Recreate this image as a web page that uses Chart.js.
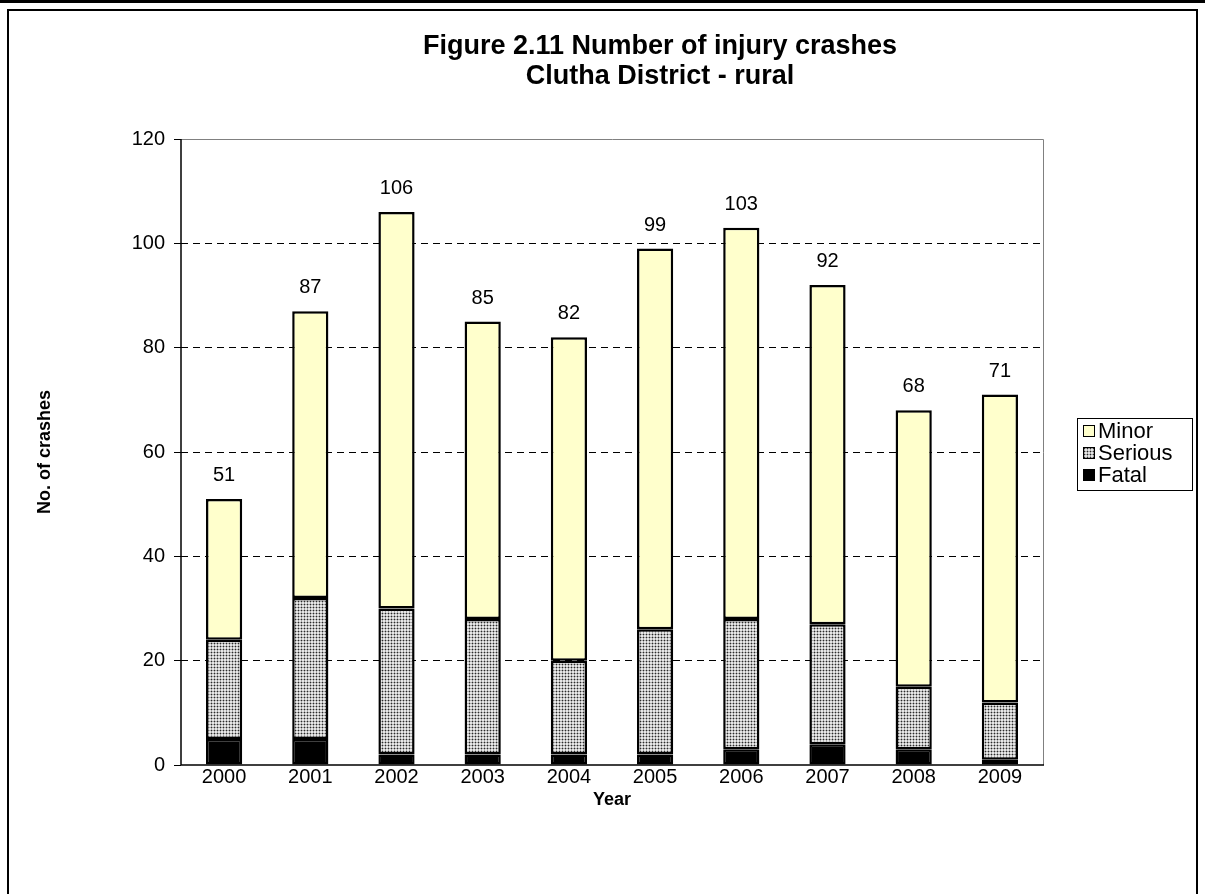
<!DOCTYPE html>
<html>
<head>
<meta charset="utf-8">
<script src="https://cdn.jsdelivr.net/npm/chart.js@4.4.1/dist/chart.umd.min.js"></script>
<style>
html,body{margin:0;padding:0;background:#fff;}
#wrap{position:relative;width:1205px;height:894px;overflow:hidden;}
#topline{position:absolute;left:0;top:0;width:1205px;height:3px;background:#000;}
#frame{position:absolute;left:7px;top:9px;width:1191px;height:900px;border:2px solid #000;box-sizing:border-box;}
canvas{position:absolute;left:0;top:0;}
</style>
</head>
<body>
<div id="wrap">
<div id="topline"></div>
<div id="frame"></div>
<canvas id="c" width="1205" height="894"></canvas>
</div>
<script>
const titleLines = ['Figure 2.11 Number of injury crashes', 'Clutha District - rural'];
const years = ['2000','2001','2002','2003','2004','2005','2006','2007','2008','2009'];
const fatal   = [5, 5, 2, 2, 2, 2, 3, 4, 3, 1];
const serious = [19, 27, 28, 26, 18, 24, 25, 23, 12, 11];
const minor   = [27, 55, 76, 57, 62, 73, 75, 65, 53, 59];
const yTicks  = [0, 20, 40, 60, 80, 100, 120];
const yTitle = 'No. of crashes';
const xTitle = 'Year';
const legendOrder = ['Minor', 'Serious', 'Fatal'];

const FONT = "'Liberation Sans', Arial, sans-serif";

function makePattern() {
  const p = document.createElement('canvas');
  p.width = 3; p.height = 3;
  const g = p.getContext('2d');
  g.fillStyle = '#e6e6e6'; g.fillRect(0,0,3,3);
  g.fillStyle = '#a8a8a8'; g.fillRect(0,1,3,1); g.fillRect(1,0,1,3);
  g.fillStyle = '#2a2a2a'; g.fillRect(1,1,1,1);
  return document.getElementById('c').getContext('2d').createPattern(p, 'repeat');
}
const seriousFill = makePattern();

const titlePlugin = {
  id: 'customTitle',
  afterDraw(chart) {
    const ctx = chart.ctx;
    ctx.save();
    ctx.fillStyle = '#000';
    ctx.font = "bold 27px " + FONT;
    ctx.textAlign = 'center';
    ctx.textBaseline = 'middle';
    const cx = 660;
    ctx.fillText(titleLines[0], cx, 47);
    ctx.fillText(titleLines[1], cx, 77);
    ctx.restore();
  }
};

const framePlugin = {
  id: 'plotFrame',
  afterDatasetsDraw(chart) {
    const a = chart.chartArea, ctx = chart.ctx;
    ctx.save();
    ctx.lineWidth = 1;
    ctx.strokeStyle = '#808080';
    ctx.beginPath();
    ctx.moveTo(a.left, a.top + 0.5); ctx.lineTo(a.right + 0.5, a.top + 0.5); ctx.lineTo(a.right + 0.5, a.bottom);
    ctx.stroke();
    ctx.strokeStyle = '#000';
    ctx.lineWidth = 1.5;
    ctx.beginPath();
    ctx.moveTo(a.left, a.top); ctx.lineTo(a.left, a.bottom); ctx.lineTo(a.right + 1, a.bottom);
    ctx.stroke();
    ctx.restore();
  }
};

const totalsPlugin = {
  id: 'totals',
  afterDatasetsDraw(chart) {
    const ctx = chart.ctx;
    const y = chart.scales.y;
    const meta = chart.getDatasetMeta(chart.data.datasets.length - 1);
    ctx.save();
    ctx.fillStyle = '#000';
    ctx.font = "20px " + FONT;
    ctx.textAlign = 'center';
    ctx.textBaseline = 'alphabetic';
    years.forEach((yr, i) => {
      const total = fatal[i] + serious[i] + minor[i];
      const px = meta.data[i].x;
      ctx.fillText(String(total), px, y.getPixelForValue(total) - 18);
    });
    ctx.restore();
  }
};

const legendPlugin = {
  id: 'boxLegend',
  afterDraw(chart) {
    const ctx = chart.ctx;
    const ds = chart.data.datasets;
    const items = legendOrder.map(n => ds.find(d => d.label === n));
    const bx = 1077, by = 418, bw = 115, bh = 72;
    ctx.save();
    ctx.fillStyle = '#fff';
    ctx.fillRect(bx, by, bw, bh);
    ctx.strokeStyle = '#000';
    ctx.lineWidth = 1;
    ctx.strokeRect(bx + 0.5, by + 0.5, bw, bh);
    ctx.font = "22px " + FONT;
    ctx.textBaseline = 'middle';
    items.forEach((it, k) => {
      const cy = by + 13 + k * 22;
      ctx.fillStyle = it.backgroundColor;
      ctx.fillRect(bx + 6, cy - 6, 12, 12);
      ctx.strokeStyle = '#000';
      ctx.strokeRect(bx + 6.5, cy - 5.5, 11, 11);
      ctx.fillStyle = '#000';
      ctx.fillText(it.label, bx + 21, cy + 1);
    });
    ctx.restore();
  }
};

const common = { borderColor: '#000', borderWidth: 2.5, borderSkipped: false, barPercentage: 0.42, categoryPercentage: 1.0 };

new Chart(document.getElementById('c'), {
  type: 'bar',
  data: {
    labels: years,
    datasets: [
      Object.assign({ label: 'Fatal', data: fatal, backgroundColor: '#000000' }, common),
      Object.assign({ label: 'Serious', data: serious, backgroundColor: seriousFill }, common),
      Object.assign({ label: 'Minor', data: minor, backgroundColor: '#ffffcc' }, common)
    ]
  },
  options: {
    responsive: false,
    animation: false,
    devicePixelRatio: 1,
    layout: { padding: { left: 30, right: 162, top: 139, bottom: 79 } },
    plugins: { legend: { display: false }, title: { display: false }, tooltip: { enabled: false } },
    scales: {
      x: {
        stacked: true,
        grid: { display: false, drawTicks: false },
        border: { display: false },
        ticks: { color: '#000', font: { family: FONT, size: 20 }, padding: 0, maxRotation: 0 },
        title: { display: true, text: xTitle, color: '#000', font: { family: FONT, size: 18, weight: 'bold' } },
        afterFit(s) { s.height = 50; }
      },
      y: {
        stacked: true,
        min: 0, max: 120,
        afterBuildTicks(s) { s.ticks = yTicks.map(v => ({ value: v })); },
        grid: {
          color: c => (c.tick && (c.tick.value === 0 || c.tick.value === 120)) ? 'rgba(0,0,0,0)' : '#000',
          lineWidth: 1,
          drawTicks: true, tickLength: 7, tickColor: '#000', tickBorderDash: []
        },
        border: { display: false, dash: [7, 5] },
        ticks: { color: '#000', font: { family: FONT, size: 20 }, padding: 9 },
        title: { display: true, text: yTitle, color: '#000', font: { family: FONT, size: 18, weight: 'bold' } },
        afterFit(s) { s.width = 151; }
      }
    }
  },
  plugins: [titlePlugin, framePlugin, totalsPlugin, legendPlugin]
});
</script>
</body>
</html>
